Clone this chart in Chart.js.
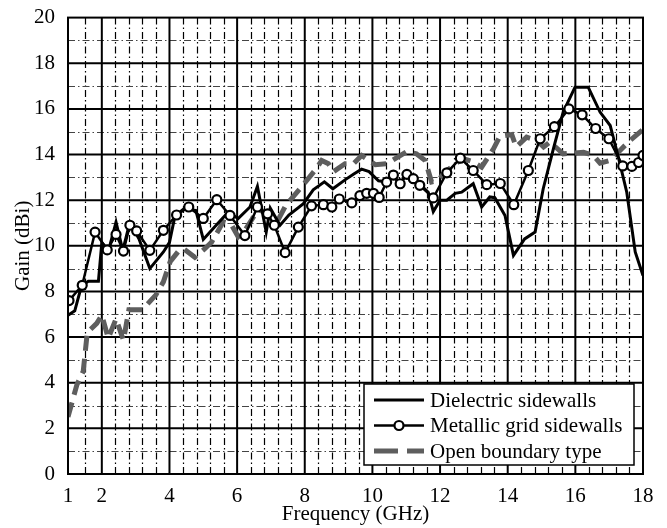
<!DOCTYPE html>
<html>
<head>
<meta charset="utf-8">
<script src="https://cdn.jsdelivr.net/npm/chart.js@4"></script>
<style>
  html, body { margin: 0; padding: 0; background: #fff; }
  #wrap { width: 667px; height: 528px; }
</style>
</head>
<body>
<div id="wrap"><canvas id="gainChart" width="667" height="528"></canvas></div>
<script>
// Measured gain vs frequency for three sidewall types
const xTicks = [1, 2, 4, 6, 8, 10, 12, 14, 16, 18];
const yTicks = [0, 2, 4, 6, 8, 10, 12, 14, 16, 18, 20];

const dielectricFreq = [1.0, 1.2, 1.4, 1.6, 1.9, 2.0, 2.2, 2.42, 2.62, 2.83, 3.1, 3.42, 3.82, 4.0, 4.16, 4.45, 4.78, 5.0,
  5.38, 5.74, 6.03, 6.38, 6.6, 6.86, 6.98, 7.27, 7.53, 7.96, 8.25, 8.58, 8.83, 9.2, 9.45, 9.68, 9.9, 10.18, 10.42,
  10.55, 10.82, 11.01, 11.21, 11.4, 11.65, 11.8, 12.0, 12.2, 12.45, 12.64, 12.98, 13.23, 13.47, 13.62, 13.92, 14.17,
  14.5, 14.81, 15.05, 15.35, 15.64, 15.99, 16.38, 16.73, 17.03, 17.28, 17.52, 17.77, 18.0];
const dielectricGain = [6.96, 7.15, 8.25, 8.45, 8.45, 10.15, 9.8, 11.04, 9.8, 11.04, 10.3, 9.0, 9.73, 10.15, 11.29, 11.65, 11.55, 10.28,
  10.9, 11.48, 11.19, 11.7, 12.6, 10.6, 11.65, 10.9, 11.35, 11.85, 12.45, 12.8, 12.5, 12.9, 13.15, 13.36, 13.25, 12.85, 12.8,
  13.1, 12.75, 13.13, 12.94, 12.7, 12.35, 11.5, 12.0, 12.0, 12.3, 12.35, 12.72, 11.7, 12.14, 12.11, 11.33, 9.58,
  10.3, 10.6, 12.5, 14.25, 15.86, 16.95, 16.95, 15.86, 15.27, 13.83, 12.35, 9.73, 8.7];

const metallicFreq = [1.03, 1.42, 1.8, 2.16, 2.42, 2.64, 2.83, 3.03, 3.42, 3.82, 4.21, 4.57, 5.0, 5.4, 5.79, 6.23, 6.6, 6.9,
  7.1, 7.42, 7.81, 8.2, 8.55, 8.8, 9.02, 9.39, 9.63, 9.83, 10.03, 10.2, 10.42, 10.62, 10.82, 11.02, 11.21, 11.4, 11.8,
  12.2, 12.6, 12.98, 13.38, 13.78, 14.18, 14.61, 14.96, 15.38, 15.81, 16.2, 16.6, 16.99, 17.4, 17.67, 17.87, 18.0];
const metallicGain = [7.6, 8.27, 10.6, 9.82, 10.5, 9.77, 10.9, 10.65, 9.8, 10.68, 11.35, 11.7, 11.2, 12.02, 11.33, 10.45, 11.7, 11.4,
  10.9, 9.7, 10.82, 11.75, 11.8, 11.7, 12.05, 11.88, 12.2, 12.3, 12.3, 12.12, 12.79, 13.1, 12.72, 13.13, 12.94, 12.65, 12.1,
  13.2, 13.84, 13.3, 12.68, 12.73, 11.8, 13.3, 14.69, 15.22, 16.0, 15.74, 15.14, 14.69, 13.5, 13.48, 13.65, 13.96];

const openFreq = [1.0, 1.26, 1.45, 1.57, 1.85, 2.0, 2.19, 2.42, 2.64, 2.8, 3.2, 3.6, 3.82, 4.02, 4.26, 4.41, 4.75, 5.03, 5.25,
  5.59, 5.84, 6.03, 6.23, 6.63, 6.88, 7.2, 7.45, 7.86, 8.35, 8.5, 8.7, 8.85, 9.19, 9.44, 9.68, 10.09, 10.42, 10.65, 11.02,
  11.3, 11.56, 11.75, 11.95, 12.1, 12.45, 12.69, 12.95, 13.23, 13.58, 13.77, 14.12, 14.25, 14.56, 14.86, 15.06, 15.25,
  15.64, 16.24, 16.53, 16.73, 17.03, 17.32, 17.62, 17.96, 18.0];
const openGain = [2.5, 3.9, 4.5, 6.2, 6.6, 6.96, 5.95, 6.8, 5.86, 7.2, 7.2, 7.85, 8.42, 9.3, 9.75, 9.88, 9.5, 9.85, 10.17,
  11.05, 10.9, 10.4, 10.68, 11.6, 11.4, 11.1, 11.8, 12.5, 13.4, 13.74, 13.6, 13.25, 13.6, 13.6, 13.96, 13.55, 13.6, 13.8, 14.13,
  14.03, 13.74, 12.8, 12.87, 13.16, 13.6, 13.82, 13.7, 13.45, 14.25, 14.8, 14.88, 14.33, 14.76, 14.62, 14.33, 14.55,
  14.03, 14.1, 13.96, 13.62, 13.74, 14.18, 14.62, 15.05, 15.1];

const toPoints = (xs, ys) => xs.map((f, i) => ({ x: f, y: ys[i] }));
const serif = 'Liberation Serif, Times New Roman, serif';
const fontSize = 21;

// minor grid positions: 1.5, then every 0.4 GHz between the major lines
const minorX = [1.5];
for (let m = 2; m < 18; m += 2) [0.4, 0.8, 1.2, 1.6].forEach(d => minorX.push(m + d));
const minorY = [];
for (let v = 1; v < 20; v += 2) minorY.push(v);

const paperGrid = {
  id: 'paperGrid',
  beforeDatasetsDraw(chart) {
    const { ctx, chartArea: a, scales: { x, y } } = chart;
    ctx.save();
    ctx.lineWidth = 1.2;
    ctx.setLineDash([7, 3, 1.5, 3]);
    ctx.strokeStyle = '#000';
    minorX.forEach(v => {
      const px = Math.round(x.getPixelForValue(v)) + 0.5;
      ctx.beginPath(); ctx.moveTo(px, a.top); ctx.lineTo(px, a.bottom); ctx.stroke();
    });
    ctx.strokeStyle = '#444';
    minorY.forEach(v => {
      const py = Math.round(y.getPixelForValue(v)) + 0.5;
      ctx.beginPath(); ctx.moveTo(a.left, py); ctx.lineTo(a.right, py); ctx.stroke();
    });
    ctx.setLineDash([]);
    ctx.lineWidth = 2;
    ctx.strokeStyle = '#000';
    xTicks.slice(1, -1).forEach(v => {
      const px = x.getPixelForValue(v);
      ctx.beginPath(); ctx.moveTo(px, a.top); ctx.lineTo(px, a.bottom); ctx.stroke();
    });
    yTicks.slice(1, -1).forEach(v => {
      const py = y.getPixelForValue(v);
      ctx.beginPath(); ctx.moveTo(a.left, py); ctx.lineTo(a.right, py); ctx.stroke();
    });
    ctx.restore();
  },
  afterDatasetsDraw(chart) {
    const { ctx, chartArea: a } = chart;
    ctx.save();
    ctx.lineWidth = 2;
    ctx.strokeStyle = '#000';
    ctx.strokeRect(a.left, a.top, a.right - a.left, a.bottom - a.top);
    ctx.restore();
  }
};

// boxed legend in the lower right of the plot
const boxLegend = {
  id: 'boxLegend',
  afterDraw(chart) {
    const { ctx } = chart;
    const bx = 364, by = 384, bw = 270, bh = 81;
    ctx.save();
    ctx.fillStyle = '#fff';
    ctx.fillRect(bx, by, bw, bh);
    ctx.lineWidth = 1.5;
    ctx.strokeStyle = '#000';
    ctx.strokeRect(bx, by, bw, bh);
    const rows = [400, 425.5, 451];
    chart.data.datasets.forEach((ds, i) => {
      const cy = rows[i];
      ctx.strokeStyle = ds.borderColor;
      ctx.lineWidth = ds.borderWidth;
      ctx.setLineDash(i === 2 ? [24, 9] : []);
      ctx.beginPath(); ctx.moveTo(374, cy); ctx.lineTo(424, cy); ctx.stroke();
      ctx.setLineDash([]);
      if (ds.pointRadius > 0) {
        ctx.fillStyle = '#fff';
        ctx.lineWidth = ds.pointBorderWidth;
        ctx.beginPath(); ctx.arc(399, cy, ds.pointRadius, 0, Math.PI * 2); ctx.fill(); ctx.stroke();
      }
      ctx.fillStyle = '#000';
      ctx.font = fontSize + 'px ' + serif;
      ctx.textBaseline = 'middle';
      ctx.textAlign = 'left';
      ctx.fillText(ds.label, 430, cy + 1);
    });
    ctx.restore();
  }
};

const ctx = document.getElementById('gainChart').getContext('2d');
const gainChart = new Chart(ctx, {
  type: 'line',
  data: {
    datasets: [{
      label: 'Dielectric sidewalls',
      data: toPoints(dielectricFreq, dielectricGain),
      borderColor: '#000',
      borderWidth: 3,
      pointRadius: 0,
      order: 1
    }, {
      label: 'Metallic grid sidewalls',
      data: toPoints(metallicFreq, metallicGain),
      borderColor: '#000',
      borderWidth: 2.5,
      pointRadius: 4.5,
      pointBorderWidth: 2.2,
      pointBorderColor: '#000',
      pointBackgroundColor: '#fff',
      order: 0
    }, {
      label: 'Open boundary type',
      data: toPoints(openFreq, openGain),
      borderColor: '#5e5e5e',
      borderWidth: 5,
      borderDash: [15, 8],
      pointRadius: 0,
      order: 2
    }]
  },
  options: {
    responsive: false,
    animation: false,
    layout: { padding: { top: 17, right: 24, left: 0, bottom: 0 } },
    plugins: { legend: { display: false }, tooltip: { enabled: false } },
    elements: { line: { tension: 0 } },
    scales: {
      x: {
        type: 'linear',
        min: 1,
        max: 18,
        afterBuildTicks: s => { s.ticks = xTicks.map(v => ({ value: v })); },
        afterFit: s => { s.height = 54; },
        grid: { display: false },
        border: { display: false },
        ticks: { color: '#000', font: { family: serif, size: fontSize }, padding: 2, maxRotation: 0, autoSkip: false },
        title: { display: true, text: 'Frequency (GHz)', color: '#000', font: { family: serif, size: fontSize }, padding: { bottom: 1 } }
      },
      y: {
        min: 0,
        max: 20,
        afterBuildTicks: s => { s.ticks = yTicks.map(v => ({ value: v })); },
        afterFit: s => { s.width = 68; },
        grid: { display: false },
        border: { display: false },
        ticks: { color: '#000', font: { family: serif, size: fontSize }, padding: 5 },
        title: { display: true, text: 'Gain (dBi)', color: '#000', font: { family: serif, size: fontSize }, padding: { top: 11 } }
      }
    }
  },
  plugins: [paperGrid, boxLegend]
});
</script>
</body>
</html>
